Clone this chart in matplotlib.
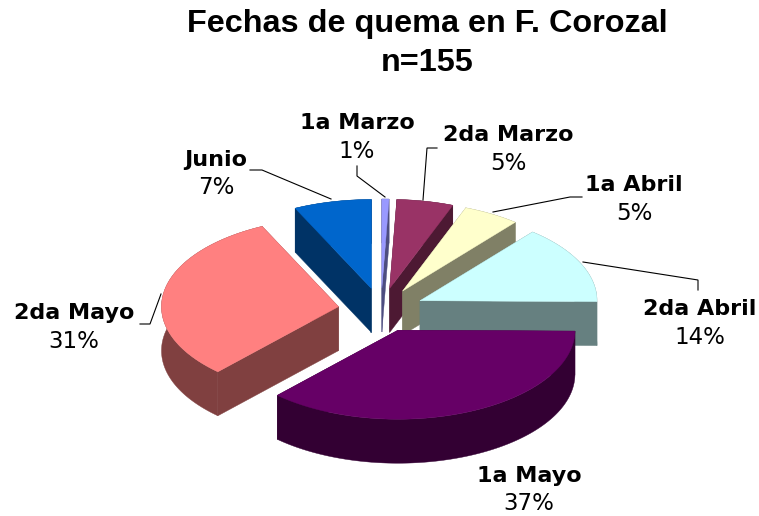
import numpy as np
import matplotlib
matplotlib.use("Agg")
import matplotlib.pyplot as plt

# Data (counts out of n=155, clockwise from 12 o'clock)
categories = ["1a Marzo", "2da Marzo", "1a Abril", "2da Abril", "1a Mayo", "2da Mayo", "Junio"]
counts = [1, 8, 8, 22, 57, 48, 11]
title_lines = ["Fechas de quema en F. Corozal", "n=155"]

top_colors = ["#9999FF", "#993366", "#FFFFCC", "#CCFFFF", "#660066", "#FF8080", "#0066CC"]
side_colors = ["#4D4D80", "#4D1933", "#808066", "#668080", "#330033", "#804040", "#003366"]
draw_order = [6, 0, 1, 2, 3, 5, 4]

CX, CY = 381.0, 310.0
RX, RY = 177.0, 89.0
EX, EY = 43.0, 22.0
DEPTH = 44.0

label_pos = {
    "1a Marzo": (357, 123), "2da Marzo": (508, 135), "1a Abril": (634, 185),
    "2da Abril": (700, 309), "1a Mayo": (529, 476), "2da Mayo": (74, 313), "Junio": (216, 160),
}
leaders = {
    "1a Marzo": ([357, 357, 385], [166, 176, 197]),
    "2da Marzo": ([437, 427, 423], [148, 148, 200]),
    "1a Abril": ([582, 570, 493], [197, 197, 212]),
    "2da Abril": ([583, 698, 698], [262, 280, 290]),
    "2da Mayo": ([161, 150, 140], [294, 324, 324]),
    "Junio": ([250, 262, 331], [170, 170, 199]),
}

fig = plt.figure(figsize=(7.59, 5.16), dpi=100, facecolor="white")
ax = fig.add_axes([0, 0, 1, 1])
ax.set_xlim(0, 759)
ax.set_ylim(516, 0)
ax.axis("off")

total = sum(counts)
edges = np.concatenate([[0], np.cumsum(counts)]) / total * 2 * np.pi

for order, i in enumerate(draw_order):
    a0, a1 = edges[i], edges[i + 1]
    mid = (a0 + a1) / 2
    ax_c = CX + EX * np.sin(mid)
    ay_c = CY - EY * np.cos(mid)
    th = np.linspace(a0, a1, 120)
    rim_x = ax_c + RX * np.sin(th)
    rim_y = ay_c - RY * np.cos(th)
    z = 2 + order
    # rim face as one polygon, and the two radial faces
    ax.fill(np.r_[rim_x, rim_x[::-1]], np.r_[rim_y, rim_y[::-1] + DEPTH],
            color=side_colors[i], lw=0.3, zorder=z)
    for ex, ey in ((rim_x[0], rim_y[0]), (rim_x[-1], rim_y[-1])):
        ax.fill([ax_c, ex, ex, ax_c], [ay_c, ey, ey + DEPTH, ay_c + DEPTH],
                color=side_colors[i], lw=0.3, zorder=z)
    ax.fill(np.r_[ax_c, rim_x], np.r_[ay_c, rim_y], color=top_colors[i], lw=0.3, zorder=z)

for name, (lx, ly) in leaders.items():
    ax.plot(lx, ly, color="black", lw=0.8, zorder=20, solid_joinstyle="miter")

for name, c in zip(categories, counts):
    x, y = label_pos[name]
    ax.text(x, y, name, ha="center", va="center", fontsize=16, fontweight="bold",
            family="DejaVu Sans", color="black", zorder=30)
    ax.text(x, y + 28, f"{100 * c / total:.0f}%", ha="center", va="center", fontsize=16.5,
            family="DejaVu Sans", color="black", zorder=30)

ax.text(427, 24, title_lines[0], ha="center", va="center", fontsize=23.3,
        fontweight="bold", family="Liberation Sans", color="black")
ax.text(427, 63, title_lines[1], ha="center", va="center", fontsize=23.3,
        fontweight="bold", family="Liberation Sans", color="black")

fig.savefig("out.png", dpi=100)
